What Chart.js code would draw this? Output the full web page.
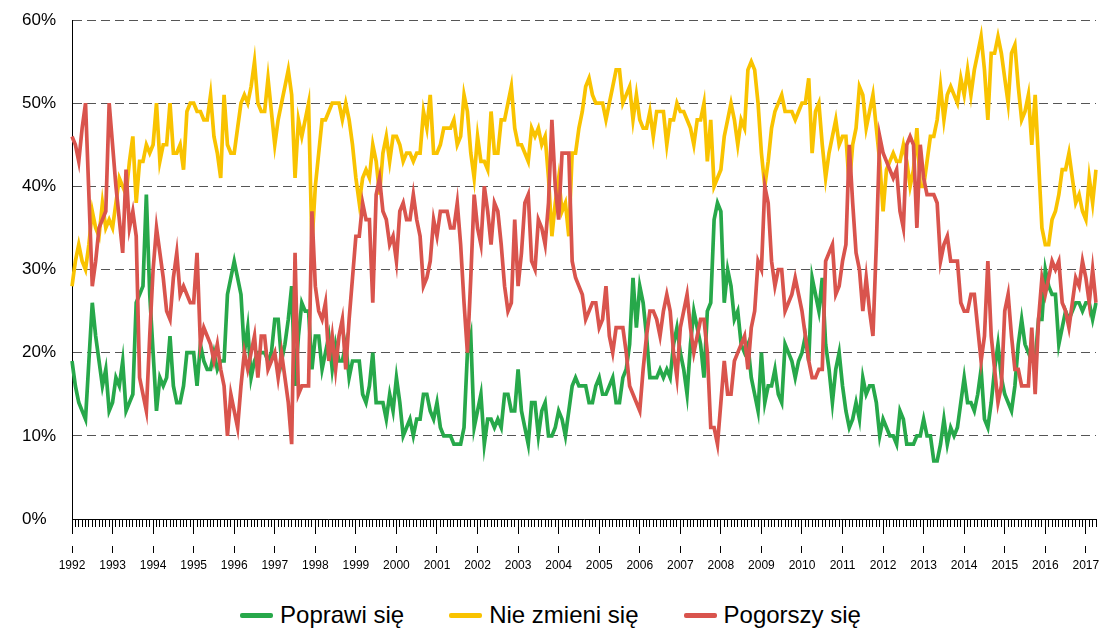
<!DOCTYPE html>
<html>
<head>
<meta charset="utf-8">
<script src="https://cdn.jsdelivr.net/npm/chart.js@4.4.1/dist/chart.umd.min.js"></script>
<style>
  html, body { margin: 0; padding: 0; background: #fff; overflow: hidden; }
  #wrap { position: relative; width: 1101px; height: 628px; }
  #legend {
    position: absolute; left: 0; top: 601px; width: 1101px;
    display: flex; justify-content: center; gap: 45px;
    font: 24px "Liberation Sans", Arial, sans-serif; color: #000; line-height: 28px;
  }
  #legend .item { display: flex; align-items: center; white-space: nowrap; }
  #legend .item i { display: inline-block; width: 33px; height: 5px; margin-right: 7px; border-radius: 2px; }
</style>
</head>
<body>
<div id="wrap">
  <canvas id="chart" width="1101" height="600"></canvas>
  <div id="legend"></div>
</div>
<script>
const yearLabels = ['1992', '1993', '1994', '1995', '1996', '1997', '1998', '1999', '2000',
  '2001', '2002', '2003', '2004', '2005', '2006', '2007', '2008', '2009', '2010', '2011',
  '2012', '2013', '2014', '2015', '2016', '2017'];

// monthly shares in %, one row per year
const poprawi = [
  19, 16, 14, 13, 12, 19, 26, 22, 19, 16, 18, 13,
  14, 17, 16, 19, 13, 14, 15, 26, 27, 28, 39, 27,
  20, 13, 17, 16, 17, 22, 16, 14, 14, 16, 20, 20,
  20, 16, 21, 19, 18, 18, 20, 18, 19, 19, 27, 29,
  31, 29, 27, 20, 23, 17, 19, 20, 20, 20, 19, 20,
  24, 24, 19, 21, 24, 28, 16, 22, 26, 25, 25, 18,
  22, 22, 18, 20, 22, 18, 21, 19, 19, 21, 17, 19,
  19, 19, 15, 14, 16, 20, 14, 14, 14, 12, 15, 13,
  17, 14, 10, 11, 12, 10, 12, 12, 15, 15, 13, 12,
  14, 11, 10, 10, 10, 9, 9, 9, 11, 20, 22, 11,
  13, 15, 9, 12, 12, 11, 12, 11, 15, 15, 13, 13,
  18, 13, 11, 9, 14, 14, 10, 13, 14, 10, 10, 11,
  13, 12, 10, 13, 16, 17, 16, 16, 16, 14, 14, 16,
  17, 15, 15, 16, 17, 14, 14, 17, 18, 21, 29, 23,
  28, 26, 22, 17, 17, 17, 18, 17, 18, 17, 21, 23,
  20, 18, 15, 21, 25, 23, 21, 17, 25, 26, 36, 38,
  37, 26, 30, 28, 24, 25, 21, 20, 21, 17, 15, 13,
  20, 14, 16, 16, 18, 15, 14, 21, 20, 19, 17, 19,
  20, 22, 19, 29, 27, 25, 29, 21, 18, 14, 18, 20,
  16, 13, 11, 12, 14, 12, 17, 15, 16, 16, 14, 10,
  12, 11, 10, 10, 9, 13, 12, 9, 9, 9, 10, 10,
  12, 10, 10, 7, 7, 9, 12, 9, 11, 10, 11, 14,
  17, 14, 14, 13, 15, 18, 12, 11, 14, 18, 21, 17,
  15, 14, 13, 16, 21, 24, 21, 20, 19, 19, 24, 24,
  30, 28, 27, 27, 21, 23, 25, 24, 25, 26, 26, 25,
  26, 26, 24, 26
];

const nieZmieni = [
  28, 31, 33, 31, 30, 33, 37, 35, 34, 38, 35, 36,
  35, 38, 41, 40, 39, 43, 46, 38, 43, 43, 45, 44,
  45, 50, 43, 45, 45, 50, 44, 44, 45, 42, 49, 50,
  50, 49, 49, 48, 48, 51, 46, 44, 41, 51, 45, 44,
  44, 47, 50, 51, 50, 52, 55, 50, 49, 49, 53, 49,
  45, 48, 50, 52, 54, 51, 41, 48, 46, 48, 50, 33,
  40, 44, 48, 48, 49, 50, 50, 50, 48, 50, 48, 45,
  41, 38, 41, 42, 41, 45, 43, 39, 44, 46, 43, 46,
  46, 45, 43, 44, 44, 43, 44, 44, 49, 47, 51, 44,
  44, 45, 47, 47, 47, 48, 45, 46, 51, 49, 44, 41,
  46, 43, 43, 42, 49, 44, 44, 48, 48, 50, 52, 47,
  45, 45, 44, 43, 47, 46, 47, 45, 46, 41, 34, 38,
  41, 37, 38, 34, 44, 44, 47, 49, 52, 53, 51, 50,
  50, 50, 48, 50, 52, 54, 54, 50, 51, 52, 48, 51,
  48, 47, 47, 49, 46, 49, 49, 49, 45, 48, 48, 50,
  49, 49, 48, 47, 45, 48, 48, 50, 43, 48, 40, 41,
  42, 46, 48, 50, 48, 45, 48, 47, 54, 55, 54, 50,
  44, 40, 43, 47, 49, 50, 51, 49, 49, 49, 48, 49,
  50, 50, 53, 44, 49, 50, 45, 41, 44, 46, 48, 45,
  46, 46, 40, 45, 47, 52, 51, 47, 49, 51, 47, 43,
  37, 42, 43, 44, 43, 43, 45, 43, 40, 42, 47, 40,
  40, 43, 46, 46, 48, 52, 48, 51, 52, 51, 50, 53,
  51, 54, 51, 54, 56, 58, 54, 48, 56, 56, 58, 56,
  53, 50, 56, 57, 52, 48, 49, 51, 45, 51, 43, 35,
  33, 33, 36, 37, 39, 42, 42, 44, 41, 38, 39, 37,
  36, 41, 38, 42
];

const pogorszy = [
  46, 45, 43, 47, 50, 39, 28, 31, 35, 36, 37, 50,
  45, 40, 36, 32, 42, 35, 37, 34, 17, 15, 13, 22,
  30, 35, 32, 29, 25, 24, 29, 32, 27, 28, 27, 26,
  26, 32, 21, 23, 22, 21, 19, 21, 18, 16, 10, 15,
  13, 11, 16, 20, 18, 20, 22, 17, 22, 22, 18, 19,
  20, 17, 20, 17, 14, 9, 32, 15, 16, 16, 16, 37,
  28, 25, 24, 26, 19, 22, 18, 22, 24, 18, 24, 29,
  34, 34, 38, 36, 36, 26, 39, 41, 37, 36, 33, 34,
  31, 37, 38, 36, 36, 39, 36, 34, 28, 29, 31, 36,
  34, 37, 37, 37, 35, 35, 38, 33, 26, 20, 29, 39,
  35, 33, 40, 37, 33, 38, 37, 33, 28, 25, 26, 36,
  28, 32, 38, 39, 31, 30, 36, 35, 33, 38, 48, 40,
  36, 44, 44, 44, 31, 29, 28, 27, 24, 25, 26, 26,
  23, 24, 28, 22, 20, 23, 23, 23, 20, 16, 15, 14,
  13, 18, 22, 25, 25, 24, 22, 25, 27, 25, 20, 17,
  23, 25, 27, 23, 20, 22, 24, 24, 20, 11, 11, 9,
  14, 19, 15, 15, 19, 20, 21, 22, 18, 23, 25, 31,
  30, 40, 38, 31, 28, 30, 30, 25, 26, 27, 29, 27,
  25, 22, 19, 17, 17, 18, 18, 31, 32, 33, 27, 28,
  31, 33, 45, 38, 32, 30, 25, 29, 25, 22, 33, 46,
  44, 43, 42, 41, 42, 37, 35, 45, 46, 45, 35, 45,
  41, 39, 39, 39, 38, 31, 33, 34, 31, 31, 31, 26,
  25, 25, 27, 27, 23, 19, 22, 31, 22, 18, 14, 16,
  25, 27, 22, 18, 18, 16, 16, 16, 23, 15, 24, 29,
  27, 29, 31, 30, 31, 26, 25, 23, 26, 29, 28, 31,
  29, 26, 30, 26
];

const seriesNames = ['Poprawi się', 'Nie zmieni się', 'Pogorszy się'];
const seriesColors = ['#27a84a', '#f9c300', '#d9544d'];

// one category per month, Jan 1992 onwards
const months = [];
yearLabels.forEach(y => {
  for (let m = 1; m <= 12; m++) months.push(y + '-' + String(m).padStart(2, '0'));
});
months.length = poprawi.length;

const isJanuary = i => months[i] && months[i].endsWith('-01');

const chart = new Chart(document.getElementById('chart').getContext('2d'), {
  type: 'line',
  data: {
    labels: months,
    datasets: [poprawi, nieZmieni, pogorszy].map((values, k) => ({
      label: seriesNames[k],
      data: values,
      borderColor: seriesColors[k],
      backgroundColor: seriesColors[k],
      borderWidth: 3.7,
      pointRadius: 0,
      tension: 0,
      fill: false,
      order: 2 - k   // later series drawn on top, like the original
    }))
  },
  options: {
    responsive: false,
    animation: false,
    layout: { padding: { left: 22, top: 20, right: 0, bottom: 21 } },
    plugins: {
      legend: { display: false },
      tooltip: { enabled: false }
    },
    scales: {
      x: {
        offset: false,
        grid: {
          drawOnChartArea: false,
          tickLength: 34,
          tickColor: '#000',
          tickWidth: 1,
          // short monthly ticks, long yearly ticks plus a separate mark above the year
          tickBorderDash: ctx => isJanuary(ctx.index) ? [14, 12, 8, 100] : [7, 100]
        },
        border: { color: '#000', width: 1 },
        ticks: {
          autoSkip: false,
          maxRotation: 0,
          minRotation: 0,
          padding: 5,
          color: '#000',
          font: { family: '"Liberation Sans", Arial, sans-serif', size: 12 },
          callback: function (value, index) {
            return isJanuary(index) ? months[index].slice(0, 4) : '';
          }
        },
        afterFit: scale => { scale.height = 60; }
      },
      y: {
        min: 0,
        max: 60,
        grid: {
          drawTicks: false,
          color: ctx => ctx.tick && ctx.tick.value === 0 ? 'rgba(0,0,0,0)' : '#555',
          lineWidth: 1
        },
        border: { display: true, color: '#000', width: 1, dash: [9, 5] },
        ticks: {
          stepSize: 10,
          crossAlign: 'far',
          color: '#000',
          font: { family: '"Liberation Sans", Arial, sans-serif', size: 17 },
          callback: v => v + '%'
        },
        afterFit: scale => { scale.width = 50; }
      }
    }
  }
});

// legend below the plot
const legendBox = document.getElementById('legend');
chart.data.datasets.forEach(ds => {
  const item = document.createElement('span');
  item.className = 'item';
  const swatch = document.createElement('i');
  swatch.style.background = ds.borderColor;
  item.appendChild(swatch);
  item.appendChild(document.createTextNode(ds.label));
  legendBox.appendChild(item);
});
</script>
</body>
</html>
